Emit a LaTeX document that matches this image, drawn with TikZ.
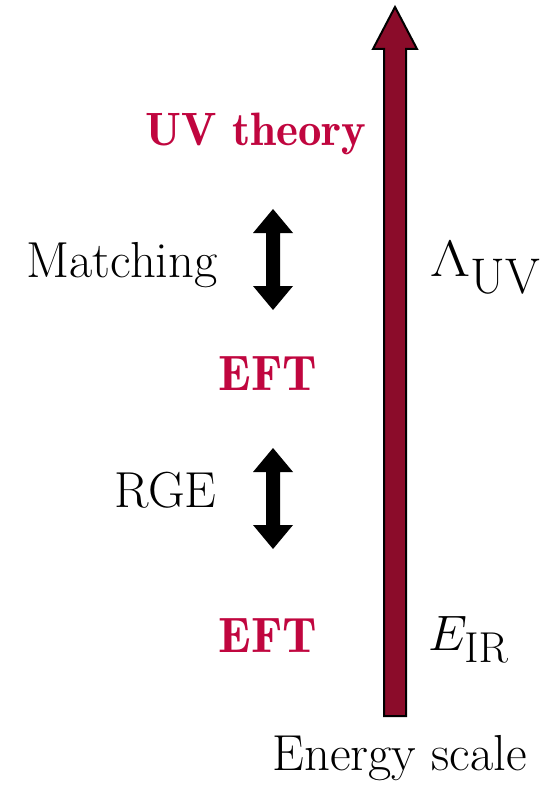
\documentclass[tikz,border=0pt]{standalone}
\usepackage{graphicx}
\usepackage{xcolor}
\definecolor{theorycol}{HTML}{C0063F}
\definecolor{scalecol}{HTML}{8B0C2A}
\begin{document}
\begin{tikzpicture}[x=0.5pt,y=-0.5pt,
  lbl/.style={inner sep=0pt,font=\fontsize{25.3}{30}\selectfont},
  theory/.style={inner sep=0pt,text=theorycol,font=\fontsize{24.88}{30}\selectfont\fontseries{b}\selectfont},
  scalearrow/.style={fill=scalecol,draw=black,line width=1pt,line join=miter},
  steparrow/.style={fill=black,draw=none}]
\useasboundingbox (0,0) rectangle (544,786);

% energy scale axis
\draw[scalearrow] (384,716) -- (384,49) -- (373,49) -- (395,7) -- (417,49)
  -- (406,49) -- (406,716) -- cycle;

% theory levels
\node[theory,anchor=base west,font=\fontsize{23.4}{28}\selectfont\fontseries{b}\selectfont]
  (uv) at (145,146) {UV theory};
\node[theory,anchor=base west] (eft1) at (218,390) {EFT};
\node[theory,anchor=base west] (eft2) at (218,652) {EFT};

% steps between the levels
\node[lbl,anchor=base east] (match) at (218,277) {Matching};
\node[lbl,anchor=base east] (rge) at (217,507) {RGE};

\foreach \top/\bot in {209/310, 448/549}{
  \fill[steparrow] (273,\top) -- (293,\top+24) -- (280,\top+24) -- (280,\bot-24)
    -- (293,\bot-24) -- (273,\bot) -- (253,\bot-24) -- (266,\bot-24)
    -- (266,\top+24) -- (253,\top+24) -- cycle;
}

% scale labels
\node[lbl,anchor=base west] (luv) at (430,276)
  {$\scalebox{1.25}[1.03]{$\Lambda$}_{\scalebox{1.45}{$\scriptstyle\mathrm{UV}$}}$};
\node[lbl,anchor=base west] (eir) at (428,650)
  {$E_{\scalebox{1.25}{$\scriptstyle\mathrm{IR}$}}$};
\node[lbl,anchor=base west] (escale) at (272,770) {Energy scale};
\end{tikzpicture}
\end{document}
